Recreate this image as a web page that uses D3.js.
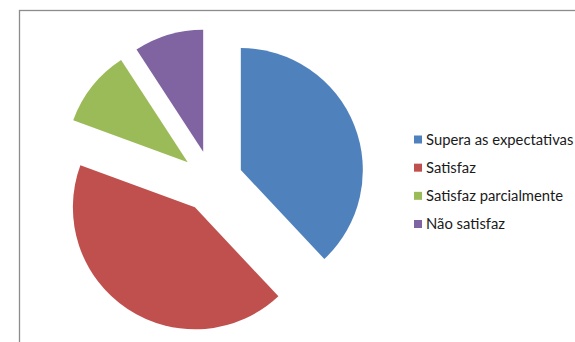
<!DOCTYPE html>
<html><head><meta charset="utf-8">
<script src="https://cdn.jsdelivr.net/npm/d3@7"></script>
<style>body{margin:0;background:#fff}svg{display:block}</style>
</head><body>
<script>
const categories = ["Supera as expectativas", "Satisfaz", "Satisfaz parcialmente", "Não satisfaz"];
const values = [38, 42.6, 10.2, 9.2];
const colors = ["#4F81BD", "#C0504D", "#9BBB59", "#8064A2"];

const W = 575, H = 342;
const svg = d3.select("body").append("svg").attr("width", W).attr("height", H);

svg.append("rect").attr("x", 19.5).attr("y", 10.5).attr("width", 700).attr("height", 500)
  .attr("fill", "none").attr("stroke", "#8c8c8c").attr("stroke-width", 1.3);

const cx = 212, cy = 181.5, r = 122, explode = 31;
const pie = d3.pie().sort(null).value(d => d);
const arc = d3.arc().innerRadius(0).outerRadius(r);
const arcs = pie(values);

const g = svg.append("g").attr("transform", `translate(${cx},${cy})`);
g.selectAll("path").data(arcs).enter().append("path")
  .attr("d", arc)
  .attr("fill", (d, i) => colors[i])
  .attr("transform", d => {
    const a = (d.startAngle + d.endAngle) / 2;
    return `translate(${explode * Math.sin(a)},${-explode * Math.cos(a)})`;
  });

const y = d3.scalePoint().domain(categories).range([139.5, 224]);
const lg = svg.append("g");
const items = lg.selectAll("g").data(categories).enter().append("g")
  .attr("transform", d => `translate(414,${y(d)})`);
items.append("rect").attr("x", 0).attr("y", -4).attr("width", 8).attr("height", 8)
  .attr("fill", (d, i) => colors[i]);
items.append("text").attr("x", 12).attr("y", 0).attr("dy", "0.35em")
  .attr("font-family", "Lato, 'Open Sans', sans-serif").attr("font-size", 14.8)
  .attr("fill", "#1a1a1a").text(d => d);
</script>
</body></html>
